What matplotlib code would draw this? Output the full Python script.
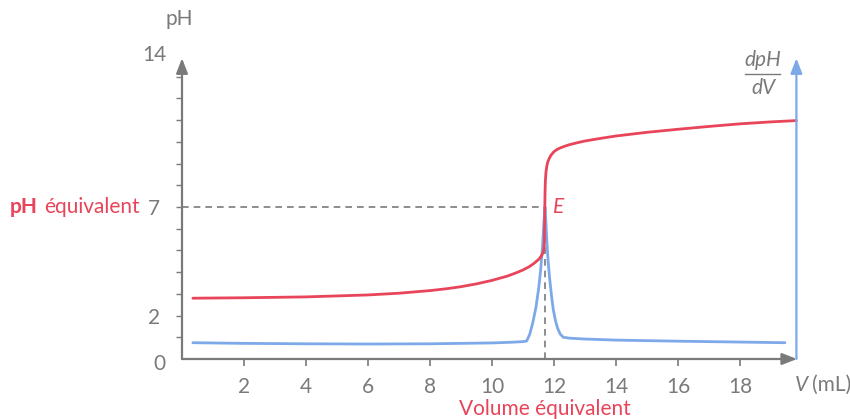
import matplotlib
matplotlib.use("Agg")
import matplotlib.pyplot as plt

plt.rcParams["font.family"] = ["Lato", "DejaVu Sans"]

RED = "#e8445a"
BLUE = "#7da9e8"
GRAY = "#7a7a7a"

# titration curve pH = f(V)
v_ph = [0.35, 2, 4, 6, 7, 8, 8.5, 9, 9.5, 10, 10.5, 10.8, 11, 11.2, 11.35, 11.5, 11.58,
        11.63, 11.66, 11.68, 11.69, 11.7, 11.71, 11.72, 11.74, 11.77, 11.8, 11.85, 11.9,
        12.0, 12.1, 12.2, 12.35, 12.5, 12.75, 13, 13.5, 14, 15, 16, 17, 18, 19, 19.82]
ph = [2.8, 2.82, 2.86, 2.95, 3.03, 3.15, 3.23, 3.33, 3.46, 3.62, 3.82, 3.98, 4.1, 4.25,
      4.4, 4.58, 4.72, 4.85, 4.98, 5.15, 5.4, 6.6, 7.6, 8.15, 8.6, 8.9, 9.08, 9.25, 9.38,
      9.55, 9.65, 9.72, 9.8, 9.87, 9.96, 10.04, 10.16, 10.27, 10.44, 10.58, 10.71, 10.83,
      10.92, 10.98]

# derivative dpH/dV (arbitrary units)
v_d = [0.35, 2, 4, 6, 8, 10, 10.6, 11.0, 11.12, 11.22, 11.32, 11.42, 11.5, 11.57, 11.63,
       11.67, 11.71, 11.74, 11.77, 11.81, 11.86, 11.92, 11.98, 12.05, 12.12, 12.2, 12.3,
       12.5, 13, 14, 16, 18, 19.45]
dph = [0.75, 0.72, 0.7, 0.69, 0.7, 0.74, 0.77, 0.8, 0.83, 1.15, 1.7, 2.4, 3.2, 4.1, 5.2,
       6.2, 7.0, 6.3, 5.4, 4.5, 3.7, 2.9, 2.25, 1.75, 1.4, 1.15, 1.0, 0.96, 0.92, 0.87,
       0.82, 0.78, 0.75]

v_eq = 11.7
ph_eq = 7
x_ticks = [2, 4, 6, 8, 10, 12, 14, 16, 18]
x_end = 19.82
FS = 15


def px(x, y):
    return x / 850, 1 - y / 419


fig = plt.figure(figsize=(8.5, 4.19), dpi=100)
ax = fig.add_axes([182 / 850, (419 - 359) / 419, 620 / 850, 304 / 419])
ax.set_xlim(0, 20)
ax.set_ylim(0, 14)
for s in ax.spines.values():
    s.set_visible(False)

ax.plot(v_ph, ph, color=RED, lw=2, solid_capstyle="round", solid_joinstyle="round", zorder=4)
ax.plot(v_d, dph, color=BLUE, lw=2, solid_capstyle="round", solid_joinstyle="round", zorder=3)

# dashed guides
ax.plot([0, v_eq], [ph_eq, ph_eq], color=GRAY, lw=1.2, ls=(0, (4, 3)), zorder=2)
ax.plot([v_eq, v_eq], [0, ph_eq], color=GRAY, lw=1.2, ls=(0, (4, 3)), zorder=2)

# axes with arrows
arrow = dict(arrowstyle="-|>,head_length=0.9,head_width=0.35", lw=1.6, shrinkA=0, shrinkB=0)
ax.annotate("", xy=(0, 13.85), xytext=(0, 0), arrowprops=dict(arrow, color=GRAY),
            annotation_clip=False, zorder=5)
ax.annotate("", xy=(x_end + 0.02, 0), xytext=(0, 0), arrowprops=dict(arrow, color=GRAY),
            annotation_clip=False, zorder=5)
ax.annotate("", xy=(x_end, 13.85), xytext=(x_end, 0), arrowprops=dict(arrow, color=BLUE),
            annotation_clip=False, zorder=5)

# ticks
ax.set_xticks(x_ticks)
ax.set_xticklabels([str(t) for t in x_ticks])
ax.tick_params(axis="x", direction="out", length=5, width=1.2, color=GRAY,
               labelcolor=GRAY, labelsize=FS, pad=8)
ax.set_yticks(range(1, 14))
ax.set_yticklabels(["" if t not in (2, 7) else str(t) for t in range(1, 14)])
ax.tick_params(axis="y", direction="out", length=4, width=1.0, color=GRAY,
               labelcolor=GRAY, labelsize=FS, pad=12)

txt = dict(color=GRAY, fontsize=FS)
fig.text(*px(166, 364), "0", ha="right", va="center", **txt)
fig.text(*px(167, 55), "14", ha="right", va="center", **txt)
fig.text(*px(179, 19), "pH", ha="center", va="center", **txt)
fig.text(*px(812, 385), "(mL)", ha="left", va="center", **txt)
fig.text(*px(808, 385), "V", ha="right", va="center", color=GRAY, fontsize=FS,
         fontstyle="italic")

# dpH/dV fraction
fig.text(*px(763, 60), "dpH", ha="center", va="center", color=GRAY, fontsize=FS,
         fontstyle="italic")
fig.add_artist(plt.Line2D([745 / 850, 780 / 850], [1 - 74 / 419, 1 - 74 / 419],
                          color=GRAY, lw=1.0))
fig.text(*px(763, 88), "dV", ha="center", va="center", color=GRAY, fontsize=FS,
         fontstyle="italic")

# equivalence annotations
ax.text(v_eq + 0.28, ph_eq, "E", ha="left", va="center", color=RED, fontsize=FS,
        fontstyle="italic")
fig.text(*px(545, 409), "Volume équivalent", ha="center", va="center", color=RED,
         fontsize=FS)
fig.text(*px(140, 207), "équivalent", ha="right", va="center", color=RED, fontsize=FS)
fig.text(*px(10, 207), "pH", ha="left", va="center", color=RED, fontsize=FS,
         fontweight="bold")

fig.savefig("out.png", dpi=100)
